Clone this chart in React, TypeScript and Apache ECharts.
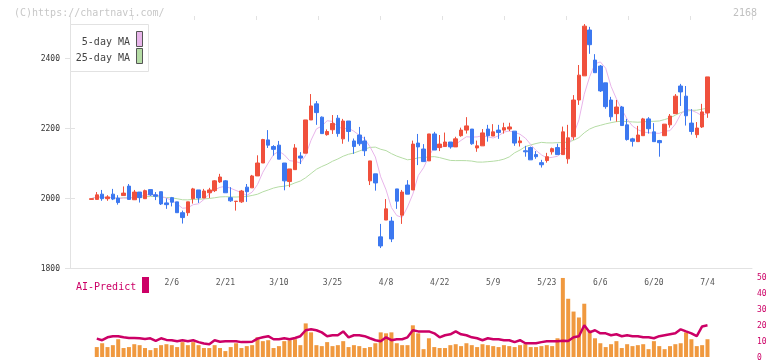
import React, { useEffect, useRef } from "react";
import * as echarts from "echarts";

// Trading days (2025)
const dates = [
  "1/16","1/17","1/20","1/21","1/22","1/23","1/24","1/27","1/28","1/29","1/30","1/31",
  "2/3","2/4","2/5","2/6","2/7","2/10","2/12","2/13","2/14","2/17","2/18","2/19","2/20","2/21","2/25","2/26","2/27","2/28",
  "3/3","3/4","3/5","3/6","3/7","3/10","3/11","3/12","3/13","3/14","3/17","3/18","3/19","3/21","3/24","3/25","3/26","3/27","3/28","3/31",
  "4/1","4/2","4/3","4/4","4/7","4/8","4/9","4/10","4/11","4/14","4/15","4/16","4/17","4/18","4/21","4/22","4/23","4/24","4/25","4/28","4/30",
  "5/1","5/2","5/7","5/8","5/9","5/12","5/13","5/14","5/15","5/16","5/19","5/20","5/21","5/22","5/23","5/26","5/27","5/28","5/29","5/30",
  "6/2","6/3","6/4","6/5","6/6","6/9","6/10","6/11","6/12","6/13","6/16","6/17","6/18","6/19","6/20","6/23","6/24","6/25","6/26","6/27","6/30",
  "7/1","7/2","7/3","7/4"
];

const opens = [
  1996,1996,2011,1998,2011,2000,2007,2034,1995,2017,1998,2024,2009,2018,1986,2001,1989,1958,1958,1998,
  2023,2000,2015,2021,2046,2049,2001,1990,1989,2031,2029,2063,2100,2166,2147,2151,2100,2047,2081,2120,
  2128,2223,2269,2231,2181,2195,2228,2169,2220,2163,2180,2163,2049,2069,1889,1937,1934,2026,1951,2037,
  2023,2157,2140,2106,2183,2144,2147,2160,2146,2178,2194,2197,2143,2149,2197,2177,2194,2194,2197,2191,
  2158,2135,2144,2124,2101,2107,2132,2144,2124,2112,2175,2280,2349,2480,2394,2377,2329,2280,2241,2260,
  2209,2169,2161,2178,2226,2189,2164,2178,2209,2241,2320,2291,2214,2181,2203,2243
];
const closes = [
  1998,2009,1998,2003,1997,1987,2014,1996,2017,2001,2021,2009,2005,1983,1981,1988,1958,1944,1989,2026,
  2000,2020,2023,2049,2060,2015,1992,1991,2020,2018,2063,2100,2167,2151,2139,2111,2049,2083,2143,2114,
  2223,2263,2244,2184,2190,2213,2184,2220,2190,2147,2155,2135,2106,2043,1863,1969,1883,1991,2017,2011,
  2154,2146,2104,2183,2137,2154,2160,2146,2169,2194,2206,2155,2149,2186,2178,2189,2187,2201,2203,2157,
  2163,2132,2109,2118,2095,2118,2141,2124,2189,2172,2280,2351,2491,2438,2358,2306,2261,2232,2260,2207,
  2167,2162,2180,2226,2198,2161,2158,2211,2234,2291,2303,2235,2190,2200,2246,2346
];
const highs = [
  1998,2017,2023,2008,2026,2008,2033,2040,2023,2017,2024,2024,2017,2018,1999,2003,1989,1964,1989,2029,
  2023,2026,2029,2051,2069,2051,2031,1991,2023,2040,2066,2122,2169,2194,2151,2163,2100,2083,2154,2131,
  2223,2297,2277,2233,2196,2237,2237,2226,2220,2170,2203,2175,2106,2069,1926,1997,1946,2026,2023,2051,
  2164,2183,2154,2183,2189,2180,2187,2160,2175,2201,2231,2197,2164,2197,2209,2211,2209,2215,2215,2191,
  2175,2149,2147,2134,2109,2129,2144,2155,2204,2209,2294,2380,2497,2489,2411,2380,2329,2289,2280,2263,
  2226,2172,2206,2229,2231,2214,2166,2211,2240,2297,2326,2320,2254,2217,2269,2346
];
const lows = [
  1996,1996,1992,1992,1994,1981,2007,1995,1995,1987,1998,2006,1994,1980,1969,1976,1958,1927,1949,1984,
  1986,2000,2000,2017,2043,2015,1989,1964,1986,1989,2029,2063,2100,2143,2121,2111,2022,2031,2081,2097,
  2128,2223,2209,2184,2178,2183,2175,2155,2161,2126,2149,2120,2037,2021,1857,1937,1874,1969,1926,2011,
  2023,2094,2104,2106,2137,2134,2147,2141,2146,2175,2184,2152,2132,2149,2161,2177,2169,2184,2191,2149,
  2147,2118,2109,2112,2087,2101,2124,2124,2124,2098,2166,2266,2349,2412,2358,2303,2255,2221,2218,2207,
  2164,2147,2161,2178,2184,2161,2118,2178,2201,2241,2263,2207,2181,2172,2200,2229
];

// Volume panel (right axis, 0-50)
const volumes = [
  null,6.2,8.6,6.2,7.4,11.1,5.6,6.2,8.0,7.4,5.6,4.3,5.6,7.4,8.0,7.4,6.2,9.3,7.4,9.3,
  7.4,5.6,5.6,7.4,5.6,3.7,6.2,8.6,5.6,6.8,7.4,12.3,9.9,10.5,5.6,6.8,9.9,10.5,11.1,7.4,
  21.0,15.4,7.4,6.8,9.3,6.8,7.4,9.9,6.2,7.4,6.8,5.6,6.2,8.6,15.4,14.8,15.4,8.6,7.4,7.4,
  19.8,14.8,4.9,11.7,6.2,5.6,5.6,7.4,8.0,6.8,8.6,7.4,6.2,8.0,7.4,6.8,6.2,7.4,6.8,6.2,
  7.4,8.0,6.2,6.2,6.8,7.4,6.8,11.7,49.4,36.4,28.4,24.7,33.3,16.7,11.7,8.6,6.2,8.0,9.9,5.6,
  8.0,6.8,7.4,8.0,4.9,9.9,6.8,4.9,6.8,8.0,8.6,15.4,11.1,6.8,7.4,11.1
];
const aiPredict = [
  null,11.5,10.5,12.3,13.0,13.0,12.3,11.9,11.9,11.7,11.3,11.7,10.1,11.7,10.7,10.5,9.9,10.5,9.9,10.5,
  9.3,8.4,8.0,10.5,9.5,9.9,9.9,9.9,9.3,9.3,9.5,11.5,12.3,13.0,11.1,11.1,11.7,11.1,11.9,13.0,
  16.7,17.3,16.7,15.4,13.0,13.6,13.6,16.0,12.3,13.6,13.6,13.0,11.7,10.5,9.9,12.3,10.5,11.1,11.1,12.3,
  16.7,16.0,16.0,16.0,14.8,12.3,13.6,14.2,16.0,14.2,13.6,12.3,11.7,10.5,11.7,11.1,11.1,10.5,10.5,9.3,
  10.5,8.6,8.6,8.6,9.3,9.9,9.9,9.9,10.2,10.0,12.3,13.0,19.8,15.4,16.7,14.8,14.8,13.6,14.2,13.0,
  13.6,13.0,13.0,12.3,12.3,11.7,13.0,13.6,14.2,14.8,17.3,16.0,14.8,13.0,19.1,19.8
];

const priceTicks = [1800, 2000, 2200, 2400];
const dateLabelIdx = [15, 25, 35, 45, 55, 65, 75, 85, 95, 105, 115];

// Moving averages of the closes (as drawn by the original chart)
function movingAverage(src: number[], n: number) {
  return src.map((_, i) => {
    const s = src.slice(Math.max(0, i - n + 1), i + 1);
    return s.reduce((a, b) => a + b, 0) / s.length;
  });
}

const FONT = "'DejaVu Sans Mono', monospace";
const RED = "#f0503c";
const BLUE = "#3c78f0";
const CRIMSON = "#cc0066";
const AXIS = "#e2e2e2";

export default function App() {
  const ref = useRef<HTMLDivElement>(null);
  useEffect(() => {
    if (!ref.current) return;
    const chart = echarts.init(ref.current, null, { renderer: "svg" });
    const ma5 = movingAverage(closes, 5);
    const ma25 = movingAverage(closes, 25);
    const candle = dates.map((_, i) => [i, opens[i], closes[i], lows[i], highs[i]]);
    const xMin = -4;
    const xMax = 123.31;
    chart.setOption({
      animation: false,
      grid: [
        { left: 70, right: 20, top: 16, height: 252 },
        { left: 70, right: 20, top: 277, height: 82 },
      ],
      xAxis: [
        {
          type: "value", gridIndex: 0, min: xMin, max: xMax, interval: 1,
          splitLine: { show: false },
          axisLine: { show: true, onZero: false, lineStyle: { color: AXIS, width: 1 } },
          axisTick: { show: false },
          axisLabel: {
            customValues: dateLabelIdx,
            formatter: (v: number) => dates[Math.round(v)] ?? "",
            fontFamily: FONT, fontSize: 8, color: "#555", margin: 10,
          },
        },
        {
          type: "value", gridIndex: 0, min: 0, max: 11, interval: 1,
          axisLine: { show: false, onZero: false }, splitLine: { show: false },
          axisTick: { show: true, inside: true, length: 4, lineStyle: { color: AXIS } },
          axisLabel: { show: false },
        },
        {
          type: "value", gridIndex: 1, min: xMin, max: xMax, show: false,
        },
      ],
      yAxis: [
        {
          type: "value", gridIndex: 0, min: 1800, max: 2520, position: "left",
          splitLine: { show: false },
          axisLine: { show: true, onZero: false, lineStyle: { color: AXIS } },
          axisTick: { show: true, customValues: priceTicks, length: 5, lineStyle: { color: AXIS } },
          axisLabel: {
            customValues: priceTicks, formatter: (v: number) => String(v),
            fontFamily: FONT, fontSize: 8, color: "#333", margin: 10,
          },
        },
        {
          type: "value", gridIndex: 0, min: 1800, max: 2520, position: "left",
          splitLine: { show: false }, axisLine: { show: false, onZero: false },
          axisTick: { show: true, inside: true, customValues: priceTicks, length: 5, lineStyle: { color: AXIS } },
          axisLabel: { show: false },
        },
        {
          type: "value", gridIndex: 1, min: 0, max: 50, interval: 10, position: "right",
          splitLine: { show: false }, axisLine: { show: false, onZero: false }, axisTick: { show: false },
          axisLabel: { fontFamily: FONT, fontSize: 8, color: CRIMSON, margin: 5 },
        },
      ],
      series: [
        {
          type: "line", name: "25-day MA", xAxisIndex: 0, yAxisIndex: 0,
          data: ma25.map((v, i) => [i, v]), showSymbol: false,
          lineStyle: { color: "#b5dca5", width: 1 }, z: 2,
        },
        {
          type: "line", name: "5-day MA", xAxisIndex: 0, yAxisIndex: 0,
          data: ma5.map((v, i) => [i, v]), showSymbol: false,
          lineStyle: { color: "#e8b5ea", width: 1 }, z: 2,
        },
        {
          type: "candlestick", xAxisIndex: 0, yAxisIndex: 0,
          data: candle, encode: { x: 0, y: [1, 2, 3, 4] },
          barWidth: 4, z: 3,
          itemStyle: { color: RED, color0: BLUE, borderColor: RED, borderColor0: BLUE, borderWidth: 1 },
        },
        {
          type: "bar", xAxisIndex: 2, yAxisIndex: 2,
          data: volumes.map((v, i) => [i, v]), barWidth: 4,
          itemStyle: { color: "#f0993f" },
        },
        {
          type: "line", xAxisIndex: 2, yAxisIndex: 2,
          data: aiPredict.map((v, i) => [i, v]), showSymbol: false,
          lineStyle: { color: CRIMSON, width: 2.5 }, z: 3,
        },
      ],
      graphic: [
        { type: "text", left: 14, top: 7, z: 10, style: { text: "(C)https://chartnavi.com/", fontFamily: FONT, fontSize: 10, fill: "#c8c8c8" } },
        { type: "text", right: 15, top: 7, z: 10, style: { text: "2168", fontFamily: FONT, fontSize: 10, fill: "#c0c0c0" } },
        { type: "rect", z: 10, shape: { x: 70.5, y: 24.5, width: 78, height: 47 }, style: { fill: "#fff", stroke: "#e2e2e2", lineWidth: 1 } },
        { type: "text", z: 11, x: 130, y: 41, style: { text: "5-day MA", fontFamily: FONT, fontSize: 10, fill: "#444", align: "right", verticalAlign: "middle", textAlign: "right", textVerticalAlign: "middle" } },
        { type: "text", z: 11, x: 130, y: 57, style: { text: "25-day MA", fontFamily: FONT, fontSize: 10, fill: "#444", align: "right", verticalAlign: "middle", textAlign: "right", textVerticalAlign: "middle" } },
        { type: "rect", z: 11, shape: { x: 136.5, y: 31.5, width: 6, height: 15 }, style: { fill: "#e8b5ea", stroke: "#555", lineWidth: 1 } },
        { type: "rect", z: 11, shape: { x: 136.5, y: 48.5, width: 6, height: 15 }, style: { fill: "#b5dca5", stroke: "#555", lineWidth: 1 } },
        { type: "text", z: 11, x: 76, y: 286, style: { text: "AI-Predict", fontFamily: FONT, fontSize: 10, fill: CRIMSON, align: "left", verticalAlign: "middle", textAlign: "left", textVerticalAlign: "middle" } },
        { type: "rect", z: 11, shape: { x: 142, y: 277, width: 7, height: 16 }, style: { fill: CRIMSON } },
      ],
    });
    return () => chart.dispose();
  }, []);
  return <div ref={ref} style={{ position: "fixed", left: 0, top: 0, width: 772, height: 361 }} />;
}
